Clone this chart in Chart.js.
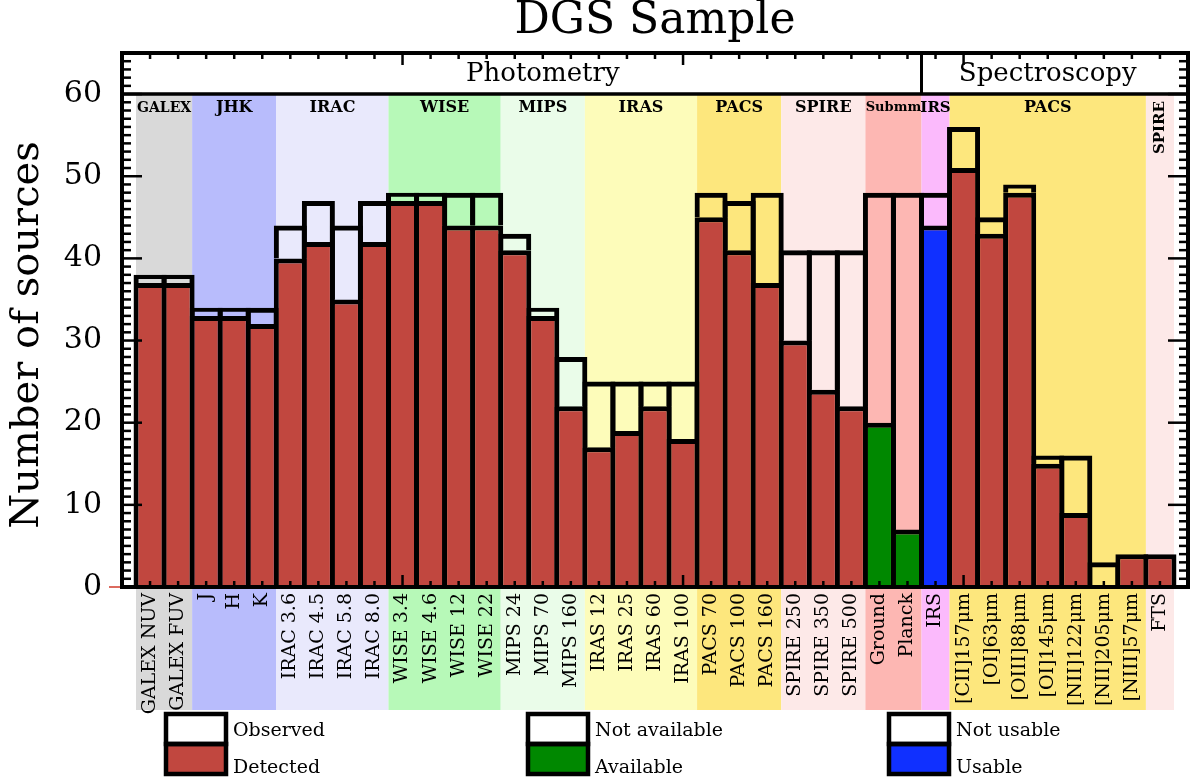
<!DOCTYPE html>
<html>
<head>
<meta charset="utf-8">
<title>DGS Sample</title>
<script src="https://cdn.jsdelivr.net/npm/chart.js@4.4.1/dist/chart.umd.min.js"></script>
<style>
    html, body { margin: 0; padding: 0; background: #fff; }
    #wrap { position: relative; width: 1191px; height: 782px; }
</style>
</head>
<body>
<div id="wrap"><canvas id="myChart"></canvas></div>
<script>
// Bars, left to right
const categories = ['GALEX NUV', 'GALEX FUV', 'J', 'H', 'K',
    'IRAC 3.6', 'IRAC 4.5', 'IRAC 5.8', 'IRAC 8.0',
    'WISE 3.4', 'WISE 4.6', 'WISE 12', 'WISE 22',
    'MIPS 24', 'MIPS 70', 'MIPS 160',
    'IRAS 12', 'IRAS 25', 'IRAS 60', 'IRAS 100',
    'PACS 70', 'PACS 100', 'PACS 160',
    'SPIRE 250', 'SPIRE 350', 'SPIRE 500',
    'Ground', 'Planck', 'IRS',
    '[CII]157\u03bcm', '[OI]63\u03bcm', '[OIII]88\u03bcm', '[OI]145\u03bcm',
    '[NII]122\u03bcm', '[NII]205\u03bcm', '[NIII]57\u03bcm', 'FTS'];

// Observed (outline) and detected / available / usable (filled)
const observed = [38, 38, 34, 34, 34, 44, 47, 44, 47, 48, 48, 48, 48, 43, 34, 28, 25, 25, 25, 25,
    48, 47, 48, 41, 41, 41, 48, 48, 48, 56, 45, 49, 16, 16, 3, 4, 4];
const detected = [37, 37, 33, 33, 32, 40, 42, 35, 42, 47, 47, 44, 44, 41, 33, 22, 17, 19, 22, 18,
    45, 41, 37, 30, 24, 22, 20, 7, 44, 51, 43, 48, 15, 9, 0, 4, 4];

// Instrument groups (background bands)
const groupNames = ['GALEX', 'JHK', 'IRAC', 'WISE', 'MIPS', 'IRAS', 'PACS', 'SPIRE', 'Submm', 'IRS', 'PACS', 'SPIRE'];
const groupSizes = [2, 3, 4, 4, 3, 4, 3, 3, 2, 1, 7, 1];
const groupColors = ['#d9d9d9', '#b8bcfc', '#e9e9fc', '#b7f9b8', '#eafce9', '#fdfcba',
    '#fde77d', '#fde9e8', '#fdb7b3', '#fbbafc', '#fde77d', '#fde9e8'];

// Top strip
const sectionNames = ['Photometry', 'Spectroscopy'];
const sectionSizes = [28, 9];

// Legend
const legendTop = ['Observed', 'Not available', 'Not usable'];
const legendBottom = ['Detected', 'Available', 'Usable'];

const RED = '#c1473f';
const GREEN = '#008800';
const BLUE = '#1030ff';
const legendColors = [RED, GREEN, BLUE];

function fillFor(name) {
    if (name === 'Ground' || name === 'Planck') return GREEN;
    if (name === 'IRS') return BLUE;
    return RED;
}

const SERIF = "'DejaVu Serif', serif";

function line(ctx, x0, y0, x1, y1) {
    ctx.beginPath();
    ctx.moveTo(x0, y0);
    ctx.lineTo(x1, y1);
    ctx.stroke();
}

const dgsPlugin = {
    id: 'dgs',
    beforeDraw(chart) {
        const {ctx, scales: {x, y}} = chart;
        const top = y.getPixelForValue(60);
        let start = 0;
        ctx.save();
        groupSizes.forEach((n, g) => {
            const x0 = x.getPixelForValue(start - 0.5);
            const x1 = x.getPixelForValue(start + n - 0.5);
            ctx.fillStyle = groupColors[g];
            ctx.fillRect(x0, top, x1 - x0, 710 - top);
            start += n;
        });
        ctx.restore();
    },
    afterDatasetsDraw(chart) {
        const {ctx, chartArea: a, scales: {x, y}} = chart;
        const y60 = y.getPixelForValue(60);
        ctx.save();
        ctx.strokeStyle = '#000';
        ctx.fillStyle = '#000';

        // tick marks, pointing inward
        ctx.lineWidth = 2.5;
        for (let v = 0; v <= 65; v++) {
            const py = y.getPixelForValue(v);
            const len = v % 10 === 0 ? 20 : 9;
            line(ctx, a.left, py, a.left + len, py);
            line(ctx, a.right, py, a.right - len, py);
        }
        for (let i = 0; i < categories.length; i++) {
            const px = x.getPixelForValue(i);
            const len = (i + 1) % 10 === 0 ? 12 : 6;
            line(ctx, px, a.bottom, px, a.bottom - len);
            line(ctx, px, a.top, px, a.top + len);
        }

        // strip line + section divider
        ctx.lineWidth = 3.5;
        line(ctx, a.left, y60, a.right, y60);
        ctx.lineWidth = 3;
        let s = 0;
        sectionSizes.forEach((n, k) => {
            if (k > 0) {
                const px = x.getPixelForValue(s - 0.5);
                line(ctx, px, a.top, px, y60);
            }
            s += n;
        });

        // frame
        ctx.lineWidth = 4;
        ctx.strokeRect(a.left, a.top, a.right - a.left, a.bottom - a.top);

        // little red mark at zero
        ctx.strokeStyle = '#d03a2a';
        ctx.lineWidth = 1.5;
        line(ctx, a.left - 13, a.bottom, a.left - 2, a.bottom);

        // section names
        ctx.fillStyle = '#000';
        ctx.textBaseline = 'middle';
        ctx.textAlign = 'center';
        ctx.font = '26px ' + SERIF;
        ctx.fillText(sectionNames[0], x.getPixelForValue(14), (a.top + y60) / 2 + 1);
        ctx.fillText(sectionNames[1], x.getPixelForValue(32), (a.top + y60) / 2 + 1);

        // group names
        let start = 0;
        groupSizes.forEach((n, g) => {
            const cx = (x.getPixelForValue(start - 0.5) + x.getPixelForValue(start + n - 0.5)) / 2;
            const name = groupNames[g];
            if (n === 1 && name === 'SPIRE') {
                ctx.save();
                ctx.translate(cx, y60 + 7);
                ctx.rotate(-Math.PI / 2);
                ctx.textAlign = 'right';
                ctx.font = 'bold 15px ' + SERIF;
                ctx.fillText(name, 0, 0);
                ctx.restore();
            } else {
                let size = 16;
                if (name === 'GALEX') size = 14;
                if (name === 'Submm') size = 13;
                if (name === 'IRS') size = 15;
                ctx.font = 'bold ' + size + 'px ' + SERIF;
                ctx.fillText(name, cx, y60 + 14);
            }
            start += n;
        });
        ctx.restore();
    },
    afterDraw(chart) {
        const {ctx, chartArea: a} = chart;
        ctx.save();
        ctx.fillStyle = '#000';
        ctx.textBaseline = 'middle';
        ctx.textAlign = 'center';
        ctx.font = '44px ' + SERIF;
        ctx.fillText('DGS Sample', (a.left + a.right) / 2, 22);

        // y axis title, sits a little below the middle of the axis
        ctx.save();
        ctx.translate(28, 335);
        ctx.rotate(-Math.PI / 2);
        ctx.font = '40px ' + SERIF;
        ctx.fillText('Number of sources', 0, 0);
        ctx.restore();

        // legend boxes
        const lefts = [166, 528, 889];
        ctx.textAlign = 'left';
        ctx.font = '19px ' + SERIF;
        lefts.forEach((lx, k) => {
            ctx.fillStyle = '#fff';
            ctx.fillRect(lx, 714, 60, 30);
            ctx.fillStyle = legendColors[k];
            ctx.fillRect(lx, 744, 60, 30);
            ctx.strokeStyle = '#000';
            ctx.lineWidth = 4.5;
            ctx.strokeRect(lx, 714, 60, 30);
            ctx.strokeRect(lx, 744, 60, 30);
            ctx.fillStyle = '#000';
            ctx.fillText(legendTop[k], lx + 67, 731);
            ctx.fillText(legendBottom[k], lx + 67, 768);
        });
        ctx.restore();
    }
};

const ctx = document.getElementById('myChart').getContext('2d');

const chart = new Chart(ctx, {
    type: 'bar',
    data: {
        datasets: [{
            label: 'Detected',
            data: detected.map((v, i) => ({x: i, y: v})),
            backgroundColor: categories.map(fillFor),
            borderColor: '#000',
            borderWidth: {top: 5, bottom: 0, left: 5, right: 5},
            borderSkipped: false,
            barPercentage: 1.178,  // bars overlap so shared edges look like one centred line
            categoryPercentage: 1
        }, {
            label: 'Observed',
            data: observed.map((v, i) => ({x: i, y: v - detected[i]})),
            backgroundColor: 'rgba(0,0,0,0)',
            borderColor: '#000',
            borderWidth: {top: 5, bottom: 0, left: 5, right: 5},
            borderSkipped: false,
            barPercentage: 1.178,
            categoryPercentage: 1
        }]
    },
    options: {
        responsive: true,
        maintainAspectRatio: false,
        animation: false,
        layout: {padding: {top: 53, right: 3, left: 0, bottom: 0}},
        plugins: {
            legend: {display: false},
            tooltip: {enabled: false},
            title: {display: false}
        },
        scales: {
            x: {
                type: 'linear',
                stacked: true,
                min: -1,
                max: 37,
                offset: false,
                grid: {display: false, drawTicks: false},
                border: {display: false},
                ticks: {
                    stepSize: 1,
                    autoSkip: false,
                    maxTicksLimit: 60,
                    minRotation: 90,
                    maxRotation: 90,
                    padding: 6,
                    color: '#000',
                    font: {family: SERIF, size: 19},
                    callback: v => categories[v] ?? ''
                },
                afterFit: s => {
                    s.height = 195;
                    s.paddingLeft = 0;
                    s.paddingRight = 0;
                }
            },
            y: {
                stacked: true,
                min: 0,
                max: 65,
                grid: {display: false, drawTicks: false},
                border: {display: false},
                ticks: {
                    stepSize: 10,
                    padding: 20,
                    color: '#000',
                    font: {family: SERIF, size: 30},
                    callback: v => (v % 10 === 0 ? String(v) : '')
                },
                afterFit: s => {
                    s.width = 122;
                    s.paddingTop = 0;
                    s.paddingBottom = 0;
                }
            }
        }
    },
    plugins: [dgsPlugin]
});
</script>
</body>
</html>
